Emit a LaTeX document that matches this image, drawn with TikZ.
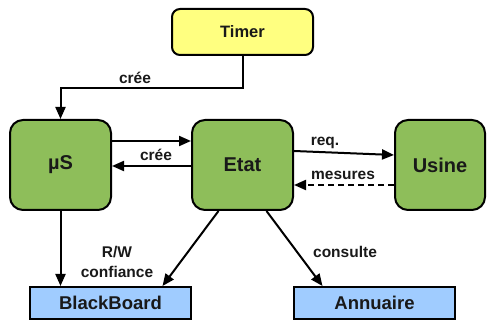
\documentclass[tikz,border=0pt]{standalone}
\usepackage{fontspec}
\setmainfont{Liberation Sans}
\usetikzlibrary{arrows.meta,calc}
\definecolor{tyellow}{RGB}{255,255,128}
\definecolor{tgreen}{RGB}{142,190,90}
\definecolor{tblue}{RGB}{160,204,255}
\tikzset{
  box/.style={draw=black, line width=2pt, font=\bfseries, text=black!90},
  timerbox/.style={box, fill=tyellow, rounded corners=8pt, minimum width=141pt, minimum height=46pt, font=\fontsize{16.5}{18}\bfseries},
  greenbox/.style={box, fill=tgreen, rounded corners=13pt, minimum height=90pt, font=\fontsize{20}{22}\bfseries},
  bluebox/.style={box, fill=tblue, minimum width=161pt, minimum height=32pt, font=\fontsize{18.5}{20}\bfseries},
  conn/.style={line width=2pt, -{Triangle[length=12pt,width=10pt]}},
  lab/.style={font=\fontsize{15.5}{18}\bfseries, text=black!90, inner sep=0pt, align=center}
}
\begin{document}
\begin{tikzpicture}[x=1pt,y=-1pt]
\useasboundingbox[fill=white] (0,0) rectangle (491,320);
\node[timerbox] (timer) at (242.5,32) {Timer};
\node[greenbox, minimum width=101pt] (mu) at (60.5,165) {µS};
\node[greenbox, minimum width=101pt] (etat) at (242.5,165) {Etat};
\node[greenbox, minimum width=90pt] (usine) at (440,165) {Usine};
\node[bluebox] (bb) at (110.5,303) {BlackBoard};
\node[bluebox] (ann) at (374.5,303) {Annuaire};
\coordinate (tc) at (242.5,88);
\draw[conn] (timer.south) -- (tc) -| (mu.north);
\draw[conn] ($(mu.east)+(0,-24)$) -- ($(etat.west)+(0,-24)$);
\draw[conn] ($(etat.west)+(0,1)$) -- ($(mu.east)+(0,1)$);
\draw[conn] ($(etat.east)+(0,-14)$) -- ($(usine.west)+(0,-10)$);
\draw[conn, dashed, dash pattern=on 6pt off 4pt] ($(usine.west)+(0,20)$) -- ($(etat.east)+(0,20)$);
\draw[conn] (mu.south) -- (mu.south |- bb.north);
\draw[conn] ($(etat.south)+(-24,0)$) -- ($(bb.north)+(52,0)$);
\draw[conn] ($(etat.south)+(24,0)$) -- ($(ann.north)+(-52,0)$);
\node[lab] (l1) at (135,78) {crée};
\node[lab] (l2) at (156,155) {crée};
\node[lab] (l3) at (325,143) {req.};
\node[lab] (l4) at (343,175) {mesures};
\node[lab] (l5) at (117,262) {R/W\\[2pt]confiance};
\node[lab] (l6) at (345,252) {consulte};
\end{tikzpicture}
\end{document}
